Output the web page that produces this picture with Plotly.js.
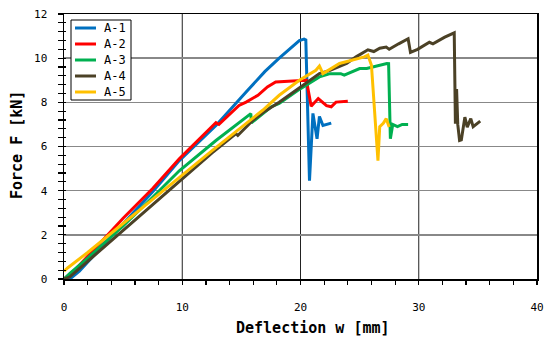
<!DOCTYPE html>
<html>
<head>
<meta charset="utf-8">
<script src="https://cdn.plot.ly/plotly-3.0.1.min.js"></script>
<style>html,body{margin:0;padding:0;background:#fff;}#chart{width:550px;height:343px;}</style>
</head>
<body>
<div id="chart"></div>
<script>
const seriesNames = ["A-1", "A-2", "A-3", "A-4", "A-5"];
const seriesColors = ["#0070C0", "#FF0000", "#00B050", "#4B4126", "#FFC000"];

const a1x = [0, 0.5, 1.3, 3, 5, 7.5, 9.75, 12.85, 15.4, 17.0, 18.2, 19.1, 19.9, 20.3, 20.45, 20.76, 21.05, 21.4, 21.6, 21.9, 22.6];
const a1y = [0, 0.0, 0.36, 1.35, 2.5, 3.95, 5.36, 6.95, 8.47, 9.4, 10.0, 10.44, 10.8, 10.86, 10.82, 4.45, 7.5, 6.35, 7.36, 6.95, 7.06];

const a2x = [0, 1, 3, 5, 7.5, 9.75, 12.6, 12.85, 13.1, 14.8, 15.4, 16.4, 17.2, 17.9, 19.35, 20.2, 20.5, 20.76, 20.9, 21.5, 22.2, 22.6, 23.0, 24.0];
const a2y = [0, 0.45, 1.6, 2.75, 4.1, 5.44, 6.95, 7.08, 7.0, 7.86, 8.01, 8.32, 8.7, 8.92, 8.97, 9.0, 9.0, 8.24, 7.82, 8.17, 7.85, 7.8, 8.01, 8.05];

const a3x = [0, 0.5, 2, 5, 7.5, 9.75, 12.85, 15.8, 15.85, 17.5, 18.2, 20, 21.6, 22.5, 23.4, 23.7, 25, 25.6, 27.3, 27.45, 27.6, 27.8, 28.2, 28.6, 29.1];
const a3y = [0, 0.25, 0.95, 2.4, 3.7, 4.9, 6.27, 7.49, 7.07, 7.79, 7.95, 8.62, 9.15, 9.3, 9.3, 9.23, 9.53, 9.53, 9.76, 9.75, 6.35, 7.0, 6.9, 7.0, 7.0];

const a4x = [0, 0.5, 2, 5, 7.5, 10, 12.5, 14.55, 14.7, 16, 17, 18.2, 20, 21.6, 22.5, 23.9, 24.7, 25.7, 26.2, 26.7, 27.25, 27.5, 28.3, 29.1, 29.3, 29.9, 30.9, 31.2, 32.2, 33.0, 33.1, 33.2, 33.3, 33.45, 33.6, 33.9, 34.1, 34.4, 34.6, 35.2];
const a4y = [0, 0.1, 0.8, 2.2, 3.4, 4.55, 5.7, 6.58, 6.5, 7.2, 7.6, 8.0, 8.7, 9.3, 9.45, 9.76, 10.06, 10.38, 10.3, 10.45, 10.5, 10.4, 10.65, 10.88, 10.26, 10.4, 10.72, 10.65, 10.95, 11.15, 7.03, 8.6, 7.0, 6.27, 6.3, 7.33, 6.88, 7.26, 6.9, 7.15];

const a5x = [0, 0.3, 2, 5, 7.5, 10, 12.5, 15, 16.8, 18.2, 19.9, 21.3, 21.6, 21.9, 23.3, 25.4, 25.7, 26.0, 26.55, 26.7, 27.0, 27.25, 27.5];
const a5y = [0.35, 0.5, 1.2, 2.5, 3.6, 4.7, 5.8, 6.85, 7.64, 8.32, 9.0, 9.45, 9.64, 9.3, 9.76, 10.06, 10.14, 9.68, 5.36, 6.9, 7.05, 7.26, 6.88];

const xTickLabels = ["0", "10", "20", "30", "40"];
const xTitle = "Deflection w [mm]";
const yTitle = "Force F [kN]";

const xs = [a1x, a2x, a3x, a4x, a5x];
const ys = [a1y, a2y, a3y, a4y, a5y];

const FONT = "DejaVu Sans Mono, monospace";
const XR = [0, 40], YR = [0, 12];
const X_MAJOR = 10, X_MINOR = 2;

// x ticks every 2 units, labels only at the major (10-unit) ticks
const xTickVals = [], xTickText = [];
for (let k = 0; k <= (XR[1] - XR[0]) / X_MINOR; k++) {
  const v = XR[0] + k * X_MINOR;
  xTickVals.push(v);
  xTickText.push(v % X_MAJOR === 0 ? xTickLabels[v / X_MAJOR] : "");
}

const traces = [];
const helper = (xa, ya) => ({x: a1x, y: a1y, xaxis: xa, yaxis: ya, mode: "lines", line: {width: 0, color: "rgba(0,0,0,0)"}, showlegend: false, hoverinfo: "skip"});
traces.push(helper("x", "y2"));
traces.push(helper("x", "y3"));
seriesNames.forEach((n, i) => traces.push({
  x: xs[i], y: ys[i], name: n, type: "scatter", mode: "lines",
  line: {color: seriesColors[i], width: 3}, showlegend: false
}));

const W = 473, H = 265; // plot area size in px
const px = v => v / W, py = v => v / H;
const shapes = [];
// vertical major gridlines (x = 10, 20, 30)
for (let v = XR[0] + X_MAJOR; v < XR[1]; v += X_MAJOR) {
  shapes.push({type: "line", xref: "x", yref: "paper", x0: v, x1: v, y0: 0, y1: 1,
    line: {color: "#222", width: 1}, layer: "below"});
}
// manual legend (paper coordinates) to match the reference's compact box
const legLeft = 7, legTop = 6, legW = 60, legH = 80, rowH = 16, firstRow = 14;
shapes.push({
  type: "rect", xref: "paper", yref: "paper",
  x0: px(legLeft), x1: px(legLeft + legW), y0: 1 - py(legTop + legH), y1: 1 - py(legTop),
  line: {color: "#000", width: 1}, fillcolor: "#fff", layer: "above"
});
const annotations = [];
seriesNames.forEach((n, i) => {
  const yy = 1 - py(legTop + firstRow + i * rowH - 6);
  shapes.push({
    type: "line", xref: "paper", yref: "paper",
    x0: px(legLeft + 4), x1: px(legLeft + 25), y0: yy, y1: yy,
    line: {color: seriesColors[i], width: 3}, layer: "above"
  });
  annotations.push({
    xref: "paper", yref: "paper", x: px(legLeft + 31), y: yy,
    xanchor: "left", yanchor: "middle", showarrow: false, text: n,
    font: {family: FONT, size: 12, color: "#000"}
  });
});
annotations.push({
  xref: "paper", yref: "paper", x: (312.5 - 64) / W, y: -(328 - 279) / H,
  xanchor: "center", yanchor: "middle", showarrow: false, text: xTitle,
  font: {family: FONT, size: 15, color: "#000", weight: "bold"}
});
annotations.push({
  xref: "paper", yref: "paper", x: -(64 - 17) / W, y: 1 - (145 - 14) / H,
  xanchor: "center", yanchor: "middle", showarrow: false, text: yTitle, textangle: -90,
  font: {family: FONT, size: 15, color: "#000", weight: "bold"}
});

const tickAxisY = (dir, len) => ({
  range: YR, overlaying: "y", anchor: "x", side: "left", dtick: 0.4, tick0: 0, tickmode: "linear",
  ticks: dir, ticklen: len, tickwidth: 1.2, tickcolor: "#000",
  showticklabels: false, showgrid: false, showline: false, zeroline: false
});

const layout = {
  width: 550, height: 343,
  margin: {l: 64, r: 13, t: 14, b: 64},
  paper_bgcolor: "#fff", plot_bgcolor: "#fff",
  font: {family: FONT, size: 12, color: "#000"},
  showlegend: false,
  shapes: shapes,
  annotations: annotations,
  xaxis: {
    range: XR, tickmode: "array", tickvals: xTickVals, ticktext: xTickText,
    showgrid: false,
    showline: true, linecolor: "#000", linewidth: 1.5, mirror: true,
    ticks: "outside", ticklen: 4, tickwidth: 1.2, tickcolor: "#000",
    ticklabelstandoff: 13,
    zeroline: false,
    tickfont: {family: FONT, size: 11, color: "#000"}
  },
  yaxis: {
    range: YR, dtick: 2, tick0: 0,
    showgrid: true, gridcolor: "#888", gridwidth: 1.5,
    showline: true, linecolor: "#000", linewidth: 1.5, mirror: true,
    ticks: "outside", ticklen: 5, tickwidth: 1.2, tickcolor: "#000",
    ticklabelstandoff: 8,
    zeroline: false,
    tickfont: {family: FONT, size: 11, color: "#000"}
  },
  yaxis2: tickAxisY("outside", 5),
  yaxis3: tickAxisY("inside", 2)
};

Plotly.newPlot("chart", traces, layout, {displayModeBar: false, staticPlot: true});
</script>
</body>
</html>
